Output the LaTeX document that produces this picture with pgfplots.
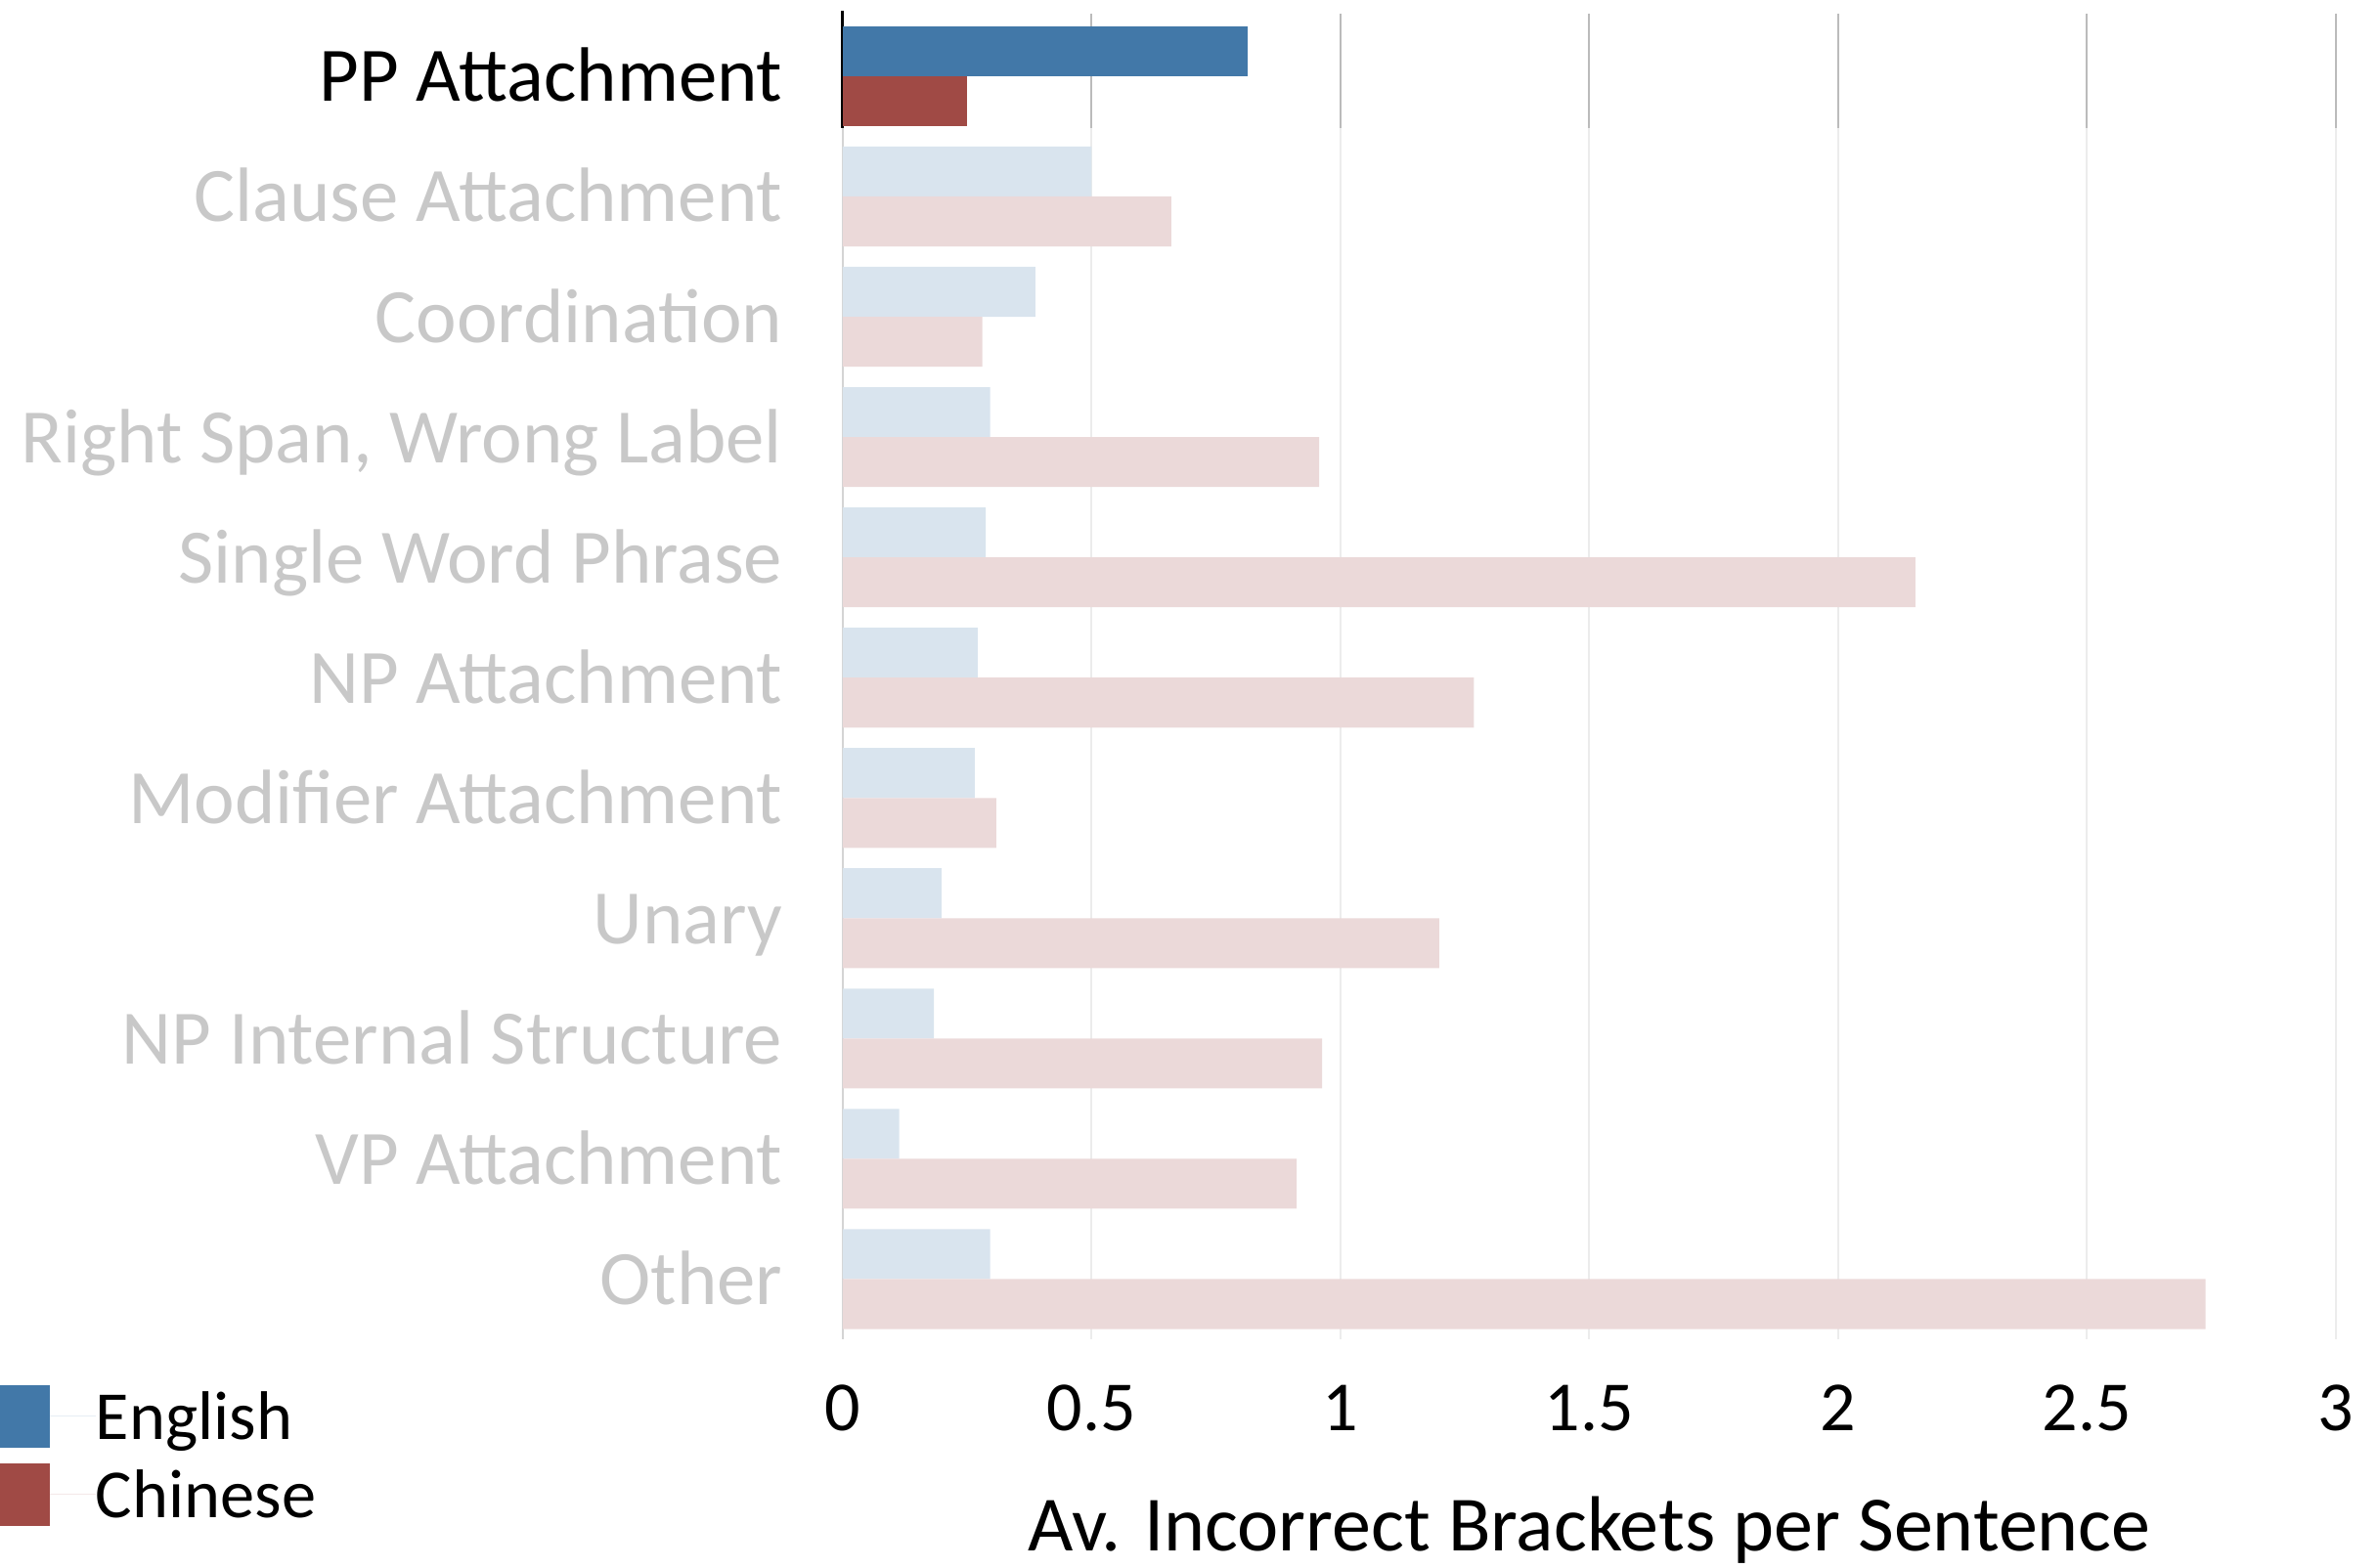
\documentclass[border=0pt]{standalone}
\usepackage{fontspec}
\setmainfont{Carlito}
\usepackage{pgfplots}
\pgfplotsset{compat=1.18}
\definecolor{engD}{RGB}{66,120,168}
\definecolor{chiD}{RGB}{160,74,69}
\definecolor{engL}{RGB}{217,228,238}
\definecolor{chiL}{RGB}{235,217,217}
\definecolor{labgray}{RGB}{200,200,200}
\definecolor{gridlight}{RGB}{236,236,236}
\definecolor{griddark}{RGB}{187,187,187}
\definecolor{axlight}{RGB}{212,212,212}
\begin{document}
\begin{tikzpicture}
\useasboundingbox (-215.5pt,-58.5pt) rectangle (392.5pt,342.5pt);
\begin{axis}[
  at={(0pt,0pt)}, anchor=south west,
  scale only axis, width=381.75pt, height=338.4pt,
  xmin=0, xmax=3, ymin=-0.5, ymax=10.5, y dir=reverse,
  clip=false,
  axis line style={draw=none},
  tick style={draw=none}, major tick length=0pt,
  xtick={0,0.5,1,1.5,2,2.5,3},
  xticklabels={0,0.5,1,1.5,2,2.5,3},
  xticklabel style={anchor=base, inner sep=0pt, yshift=-23.25pt, font=\fontsize{18}{20}\selectfont, text=black},
  ytick={0,1,2,3,4,5,6,7,8,9,10},
  yticklabels={{\color{black}PP Attachment},Clause Attachment,Coordination,{Right Span, Wrong Label},Single Word Phrase,NP Attachment,Modifier Attachment,Unary,NP Internal Structure,VP Attachment,Other},
  yticklabel style={anchor=base east, inner sep=0pt, xshift=-15.25pt, yshift=-6.5pt, font=\fontsize{19.7}{22}\selectfont, text=labgray},
  xmajorgrids, grid style={draw=gridlight, line width=0.5pt},
  xlabel={Av. Incorrect Brackets per Sentence},
  xlabel style={at={(axis description cs:0.5,0)}, anchor=base, inner sep=0pt, yshift=-54pt, font=\fontsize{20}{22}\selectfont},
  xbar, bar width=0.415, bar shift=0pt,
  legend style={at={(-0.5645,-0.0347)}, anchor=north west, draw=none, fill=none, inner sep=0pt, outer sep=0pt, row sep=4pt, font=\fontsize{17.6}{20}\selectfont, nodes={inner sep=0pt, text height=14pt, text depth=2pt}, cells={anchor=west}},
]
% axis line at zero (light) and highlighted band
\draw[axlight, line width=0.6pt] (axis cs:0,0.43) -- (axis cs:0,10.5);
\draw[griddark, line width=0.5pt] (axis cs:0.5,-0.52) -- (axis cs:0.5,0.43);
\draw[griddark, line width=0.5pt] (axis cs:1,-0.52) -- (axis cs:1,0.43);
\draw[griddark, line width=0.5pt] (axis cs:1.5,-0.52) -- (axis cs:1.5,0.43);
\draw[griddark, line width=0.5pt] (axis cs:2,-0.52) -- (axis cs:2,0.43);
\draw[griddark, line width=0.5pt] (axis cs:2.5,-0.52) -- (axis cs:2.5,0.43);
\draw[griddark, line width=0.5pt] (axis cs:3,-0.52) -- (axis cs:3,0.43);
\draw[black, line width=0.75pt] (axis cs:0,-0.545) -- (axis cs:0,0.43);
% highlighted category
\addplot[fill=engD, draw=none, legend image code/.code={\fill[engD] (0pt,-8pt) rectangle (12.75pt,8pt); \path (0pt,0pt) -- (24.5pt,0pt);}] coordinates {(0.814,-0.2075)};
\addlegendentry{English}
\addplot[fill=chiD, draw=none, legend image code/.code={\fill[chiD] (0pt,-8pt) rectangle (12.75pt,8pt); \path (0pt,0pt) -- (24.5pt,0pt);}] coordinates {(0.25,0.2075)};
\addlegendentry{Chinese}
% faded categories
\addplot[fill=engL, draw=none, forget plot] coordinates {
(0.500,0.7925) (0.387,1.7925) (0.296,2.7925) (0.287,3.7925) (0.271,4.7925)
(0.265,5.7925) (0.198,6.7925) (0.183,7.7925) (0.113,8.7925) (0.296,9.7925)};
\addplot[fill=chiL, draw=none, forget plot] coordinates {
(0.660,1.2075) (0.280,2.2075) (0.957,3.2075) (2.155,4.2075) (1.268,5.2075)
(0.308,6.2075) (1.198,7.2075) (0.963,8.2075) (0.912,9.2075) (2.738,10.2075)};
\end{axis}
\end{tikzpicture}
\end{document}
